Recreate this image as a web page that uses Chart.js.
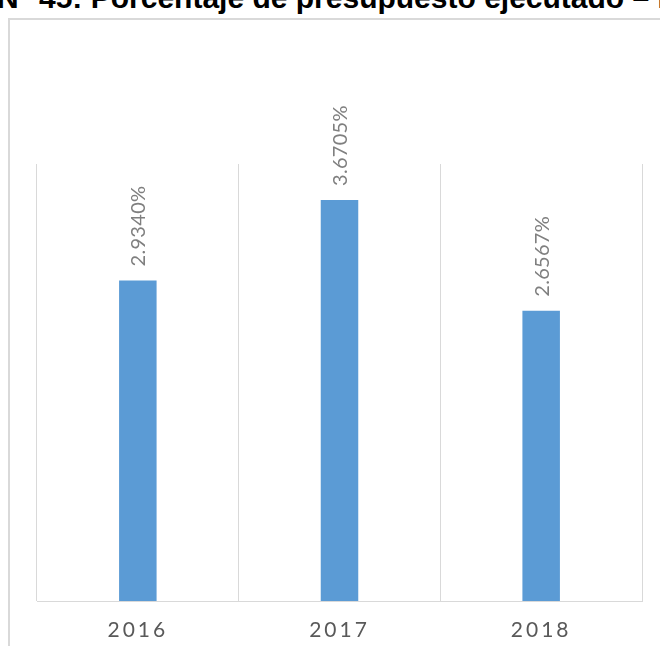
<!DOCTYPE html>
<html>
<head>
<meta charset="utf-8">
<script src="https://cdn.jsdelivr.net/npm/chart.js@4.4.1/dist/chart.umd.min.js"></script>
<style>
    html, body { margin: 0; padding: 0; background: #fff; }
    #wrap { position: relative; width: 660px; height: 646px; overflow: hidden; }
    #frame {
        position: absolute; left: 8px; top: 18px; width: 700px; height: 700px;
        border: 2px solid #d9d9d9; box-sizing: border-box;
    }
    #title {
        position: absolute; left: -3px; top: -17px; white-space: nowrap;
        font: bold 30px "Liberation Sans", Arial, sans-serif; line-height: 30px; color: #000;
    }
    #myChart { position: absolute; left: 0; top: 0; }
</style>
</head>
<body>
<div id="wrap">
    <div id="frame"></div>
    <div id="title">N° 45: Porcentaje de presupuesto ejecutado – M</div>
    <canvas id="myChart" width="660" height="646"></canvas>
</div>
<script>
    // datos
    let years = ['2016', '2017', '2018'];
    let budgetPct = [2.9340, 3.6705, 2.6567];

    let barColor = '#5b9bd5';
    let gridColor = '#d9d9d9';

    // etiquetas rotadas encima de cada barra
    let barLabels = {
        id: 'barLabels',
        afterDatasetsDraw(chart) {
            let ctx = chart.ctx;
            let meta = chart.getDatasetMeta(0);
            ctx.save();
            ctx.letterSpacing = '0.3px';
            ctx.font = '20px Lato, sans-serif';
            ctx.fillStyle = '#7f7f7f';
            ctx.textAlign = 'left';
            ctx.textBaseline = 'middle';
            meta.data.forEach((bar, i) => {
                ctx.save();
                ctx.translate(bar.x + 1, bar.y - 14);
                ctx.rotate(-Math.PI / 2);
                ctx.fillText(budgetPct[i].toFixed(4) + '%', 0, 0);
                ctx.restore();
            });
            ctx.restore();
        }
    };

    let spacing = {
        id: 'spacing',
        beforeDraw(chart) {
            chart.ctx.letterSpacing = '3px';
        }
    };

    new Chart(document.getElementById('myChart'), {
        type: 'bar',
        data: {
            labels: years,
            datasets: [{
                data: budgetPct,
                backgroundColor: barColor,
                borderWidth: 0,
                categoryPercentage: 1,
                barPercentage: 0.186
            }]
        },
        options: {
            responsive: false,
            animation: false,
            layout: { padding: { left: 37, right: 18, top: 164, bottom: 0 } },
            plugins: {
                legend: { display: false },
                tooltip: { enabled: false },
                title: { display: false }
            },
            scales: {
                x: {
                    grid: { color: gridColor, lineWidth: 1, drawTicks: false, offset: true },
                    border: { color: gridColor, width: 1 },
                    ticks: {
                        color: '#595959',
                        font: { family: 'Lato', size: 21 },
                        padding: 17
                    },
                    afterFit: s => { s.height = 45; }
                },
                y: {
                    display: false,
                    min: 0,
                    max: 4
                }
            }
        },
        plugins: [spacing, barLabels]
    });
</script>
</body>
</html>
